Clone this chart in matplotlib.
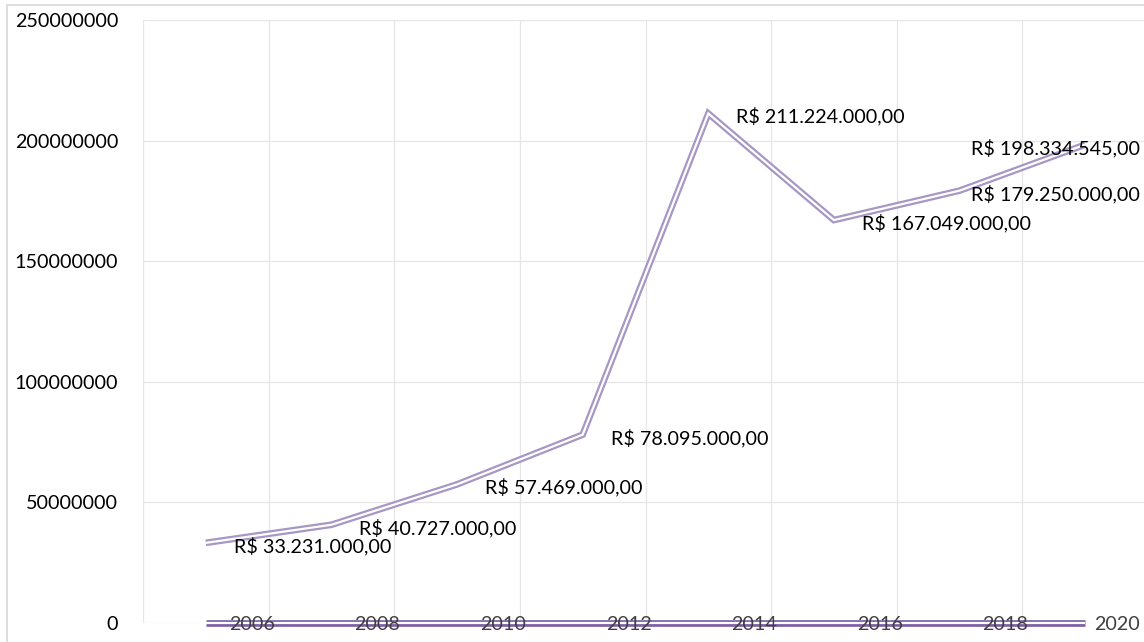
"""Receita anual em R$ (2006-2020), estilo gráfico de linhas do Excel."""
import numpy as np
import matplotlib.pyplot as plt
from matplotlib.patches import Rectangle

plt.rcParams['font.family'] = ['Lato', 'DejaVu Sans']

anos = [2006, 2008, 2010, 2012, 2014, 2016, 2018, 2020]
valores = [33231000, 40727000, 57469000, 78095000,
           211224000, 167049000, 179250000, 198334545]
rotulos = ['R$ 33.231.000,00', 'R$ 40.727.000,00', 'R$ 57.469.000,00',
           'R$ 78.095.000,00', 'R$ 211.224.000,00', 'R$ 167.049.000,00',
           'R$ 179.250.000,00', 'R$ 198.334.545,00']
y_ticks = [0, 50000000, 100000000, 150000000, 200000000, 250000000]

W, H = 1144, 642
DPI = 100
fig = plt.figure(figsize=(W / DPI, H / DPI), dpi=DPI)
ax = fig.add_axes([143 / W, (H - 623) / H, 1005 / W, 603 / H])

x = np.arange(len(valores))

def linha_dupla(xs, ys, cor, z):
    ax.plot(xs, ys, color=cor, lw=4.8, solid_joinstyle='miter',
            solid_capstyle='butt', zorder=z, clip_on=False)
    ax.plot(xs, ys, color='white', lw=1.6, solid_joinstyle='miter',
            solid_capstyle='butt', zorder=z + 0.1, clip_on=False)

linha_dupla(x, valores, '#A697C4', 3)
linha_dupla(x, anos, '#7B60A6', 3)

textos = []
for xi, v, r in zip(x, valores, rotulos):
    t = ax.annotate(r, (xi, v), xytext=(28, -3), textcoords='offset pixels',
                    ha='left', va='center', fontsize=14.2, color='#000000',
                    zorder=6, annotation_clip=False)
    textos.append(t)
for xi, a in zip(x, anos):
    t = ax.annotate(str(a), (xi, a), xytext=(23, -2), textcoords='offset pixels',
                    ha='left', va='center', fontsize=14.2, color='#404040',
                    zorder=6, annotation_clip=False)
    textos.append(t)

ax.set_xlim(-0.5, len(valores) - 0.5)
ax.set_ylim(0, 250000000)
ax.set_xticks(np.arange(-0.5, len(valores)))
ax.set_xticklabels([])
ax.set_yticks(y_ticks)
ax.set_yticklabels([str(v) for v in y_ticks])
ax.tick_params(axis='both', length=0)
ax.tick_params(axis='y', pad=18, labelsize=14.2, labelcolor='#000000')
ax.grid(True, color='#E6E6E6', lw=0.9)
ax.set_axisbelow(True)
for s in ax.spines.values():
    s.set_visible(False)

# borda da área do gráfico
fig.add_artist(Rectangle((7 / W, -0.2), 2, (H - 5) / H + 0.2,
                         transform=fig.transFigure, fill=False,
                         edgecolor='#D9D9D9', lw=1.2))

# mantém os rótulos dentro da área do gráfico, como o Excel faz
fig.canvas.draw()
limite = W - 4
for t in textos:
    bb = t.get_window_extent()
    if bb.x1 > limite:
        dx, dy = t.xyann
        t.xyann = (dx - (bb.x1 - limite), dy)

plt.savefig('out.png', dpi=DPI)
plt.close()
print('out.png saved')
